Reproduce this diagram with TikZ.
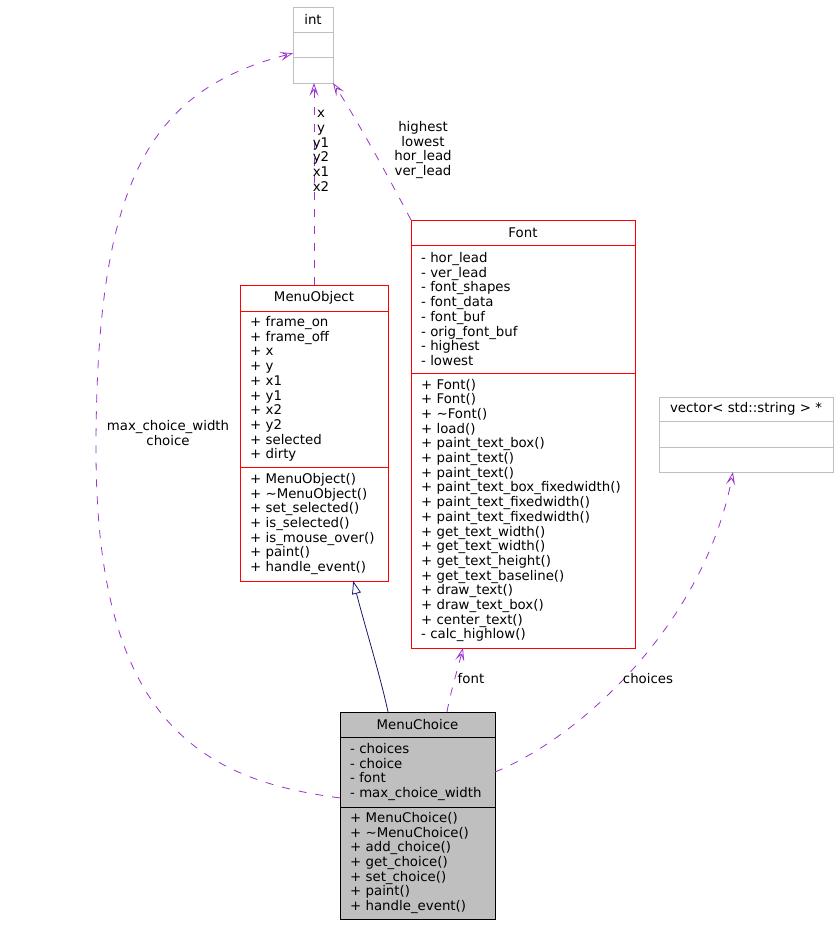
\documentclass[tikz,border=0pt]{standalone}
\usepackage{fontspec}
\setmainfont{DejaVu Sans}
\usepackage{xcolor}
\usetikzlibrary{arrows.meta, positioning, calc}

\definecolor{edgepurple}{HTML}{9A32CD}
\definecolor{inhnavy}{HTML}{191970}
\definecolor{boxgray}{HTML}{BFBFBF}
\definecolor{boxred}{HTML}{FF0000}

\begin{document}
\begin{tikzpicture}[
    x=1pt, y=-1pt,
    every node/.style={font=\fontsize{13.33}{14.7}\selectfont, text=black},
    title/.style={draw, line width=0.9pt, outer sep=0pt, align=center, inner sep=0pt, anchor=north},
    members/.style={draw, line width=0.9pt, outer sep=0pt, align=left, inner xsep=10pt, inner ysep=0pt, anchor=north},
    usage/.style={edgepurple, line width=0.8pt, dash pattern=on 8pt off 9pt, -{Stealth[open, length=13pt, width=9pt, inset=6pt]}},
    inherit/.style={inhnavy, line width=0.8pt, -{Triangle[open, length=13pt, width=9pt]}},
    edgelabel/.style={align=center, inner sep=0pt}
]
    \useasboundingbox (0,0) rectangle (837,925);

    % int
    \node[title, draw=boxgray, minimum width=40pt, minimum height=25pt] (int) at (313,7) {int};
    \node[members, draw=boxgray, text width=20pt, minimum height=25pt, below=0pt of int] (intA) {};
    \node[members, draw=boxgray, text width=20pt, minimum height=26pt, below=0pt of intA] (intM) {};

    % MenuObject
    \node[title, draw=boxred, minimum width=148pt, minimum height=26pt] (obj) at (314,285) {MenuObject};
    \node[members, draw=boxred, text width=128pt, minimum height=156pt, below=0pt of obj] (objA)
        {+ frame\_on\\+ frame\_off\\+ x\\+ y\\+ x1\\+ y1\\+ x2\\+ y2\\+ selected\\+ dirty};
    \node[members, draw=boxred, text width=128pt, minimum height=114pt, below=0pt of objA] (objM)
        {+ MenuObject()\\+ \textasciitilde MenuObject()\\+ set\_selected()\\+ is\_selected()\\+ is\_mouse\_over()\\+ paint()\\+ handle\_event()};

    % Font
    \node[title, draw=boxred, minimum width=224pt, minimum height=25pt] (font) at (523,220) {Font};
    \node[members, draw=boxred, text width=204pt, minimum height=128pt, below=0pt of font] (fontA)
        {- hor\_lead\\- ver\_lead\\- font\_shapes\\- font\_data\\- font\_buf\\- orig\_font\_buf\\- highest\\- lowest};
    \node[members, draw=boxred, text width=204pt, minimum height=275pt, below=0pt of fontA] (fontM)
        {+ Font()\\+ Font()\\+ \textasciitilde Font()\\+ load()\\+ paint\_text\_box()\\+ paint\_text()\\+ paint\_text()\\+ paint\_text\_box\_fixedwidth()\\+ paint\_text\_fixedwidth()\\+ paint\_text\_fixedwidth()\\+ get\_text\_width()\\+ get\_text\_width()\\+ get\_text\_height()\\+ get\_text\_baseline()\\+ draw\_text()\\+ draw\_text\_box()\\+ center\_text()\\- calc\_highlow()};

    % vector
    \node[title, draw=boxgray, minimum width=174pt, minimum height=24pt] (vec) at (746,397) {vector< std::string > *};
    \node[members, draw=boxgray, text width=154pt, minimum height=26pt, below=0pt of vec] (vecA) {};
    \node[members, draw=boxgray, text width=154pt, minimum height=25pt, below=0pt of vecA] (vecM) {};

    % MenuChoice
    \node[title, draw=black, fill=boxgray, minimum width=155pt, minimum height=25pt] (choice) at (417.5,712) {MenuChoice};
    \node[members, draw=black, fill=boxgray, text width=135pt, minimum height=70pt, below=0pt of choice] (choiceA)
        {- choices\\- choice\\- font\\- max\_choice\_width};
    \node[members, draw=black, fill=boxgray, text width=135pt, minimum height=112pt, below=0pt of choiceA] (choiceM)
        {+ MenuChoice()\\+ \textasciitilde MenuChoice()\\+ add\_choice()\\+ get\_choice()\\+ set\_choice()\\+ paint()\\+ handle\_event()};

    % connectors
    \draw[inherit] ($(choice.north west)!0.31!(choice.north east)$) .. controls (380,675) and (366,630) .. ($(objM.south west)!0.765!(objM.south east)$);
    \draw[usage] ($(choice.north west)!0.69!(choice.north east)$) .. controls (451,690) and (458,668) .. ($(fontM.south west)!0.232!(fontM.south east)$);
    \draw[usage] ($(choiceA.south west)!0.13!(choiceA.north west)$) .. controls (200,780) and (96,720) .. (96,450)
        .. controls (96,180) and (150,90) .. ($(intA.north west)!0.85!(intA.south west)$);
    \draw[usage] (choiceA.east) .. controls (585,735) and (705,620) .. ($(vecM.south west)!0.425!(vecM.south east)$);
    \draw[usage] (obj.north) -- (obj.north |- intM.south);
    \draw[usage] (font.north west) .. controls (385,170) and (352,112) .. (intM.south east);

    % labels
    \node[edgelabel] (lblXY) at (321,151) {x\\y\\y1\\y2\\x1\\x2};
    \node[edgelabel] (lblHigh) at (423,150) {highest\\lowest\\hor\_lead\\ver\_lead};
    \node[edgelabel] (lblMax) at (168,433) {max\_choice\_width\\choice};
    \node[edgelabel] (lblFont) at (471,679) {font};
    \node[edgelabel] (lblChoices) at (648,679) {choices};
\end{tikzpicture}
\end{document}
